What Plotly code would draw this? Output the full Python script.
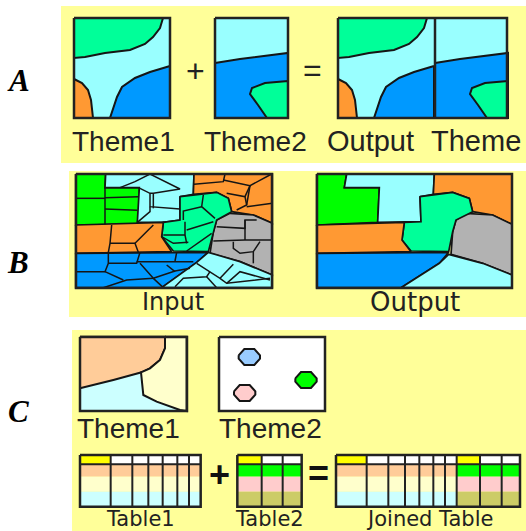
import plotly.graph_objects as go

# palette
PALE = "#FFFF99"; CYAN = "#99FFFF"; SPRING = "#00FF99"; BLUE = "#0099FF"; ORANGE = "#FF9933"
LIME = "#00FF00"; GREY = "#B2B2B2"; PEACH = "#FFCC99"; CREAM = "#FFFFCC"; ICE = "#CCFFFF"
PINK = "#FFCCCC"; OLIVE = "#CCCC66"; YELLOW = "#FFFF00"; SKY = "#99CCFF"; INK = "#151515"

# Panel A (page pixels, theme-local)
A1_green = [(74,18),(163,18),(160,28),(153,37),(145,44),(130,50),(105,53),(85,57),(74,58)]
A1_blue = [(170,66),(150,72),(135,78),(122,87),(117,97),(113,108),(110,118),(170,118)]
A1_orange = [(74,79),(82,83),(88,90),(91,100),(93,118),(74,118)]
A2_blue = [(215,63),(240,59),(288,53),(288,118),(215,118)]
A2_green = [(288,81),(265,83),(252,88),(250,94),(258,105),(267,118),(288,118)]

# Panel B (zoom coordinates)
B_in_regions = [
    (LIME, [(47,27),(137,27),(135,68),(238,68),(238,125),(232,178),(47,180)]),
    (CYAN, [(137,27),(402,27),(400,88),(360,95),(360,165),(310,172),(232,172),(238,68),(135,68)]),
    (ORANGE, [(402,27),(637,27),(637,175),(580,150),(515,140),(505,100),(470,82),(400,88)]),
    (GREY, [(637,175),(637,330),(540,290),(450,265),(460,200),(470,165),(510,145),(580,150)]),
    (SPRING, [(360,95),(470,82),(505,100),(515,140),(470,165),(460,200),(445,260),(340,258),(305,215),(310,172),(360,165)]),
    (ORANGE, [(47,180),(310,172),(305,215),(335,260),(47,265)]),
    (BLUE, [(47,265),(445,262),(410,292),(305,368),(47,368)]),
    (CYAN, [(445,262),(540,290),(637,330),(637,368),(305,368),(410,292)]),
]
B_in_lines = [
    [(47,100),(135,100)],[(135,98),(235,95)],[(135,132),(232,136)],[(135,68),(135,178)],
    [(180,68),(225,50),(270,27),(360,72),(280,85),(270,85),(240,70)],[(270,85),(270,125),(360,132)],
    [(270,125),(270,140),(232,172)],[(280,85),(280,130)],
    [(402,58),(490,50),(495,27)],[(490,45),(570,62),(635,27)],[(570,62),(560,120),(530,135)],
    [(560,125),(637,115)],[(500,85),(555,95),(560,120)],[(570,62),(555,95)],
    [(430,90),(425,125),(465,160)],[(425,125),(370,138),(370,165)],[(375,170),(375,210),(380,235)],
    [(310,210),(375,210)],[(380,195),(460,170)],[(380,258),(440,215),(455,205)],[(305,215),(340,235),(385,232)],
    [(470,185),(555,190),(555,165),(590,165)],[(460,228),(555,225),(637,225)],[(555,165),(555,225)],
    [(520,230),(520,250),(540,265),(580,260),(600,230)],[(580,260),(580,295)],
    [(155,180),(150,235),(145,262)],[(150,235),(225,235),(235,262)],[(225,235),(280,180)],
    [(47,320),(135,320),(145,295),(145,265)],[(145,295),(230,295),(240,262)],[(230,290),(400,290)],
    [(350,262),(345,288)],[(240,295),(280,340),(200,345),(130,368)],[(135,320),(190,345)],
    [(280,340),(345,318),(390,310)],[(320,300),(345,320)],[(280,340),(310,368)],
    [(410,295),(450,320),(480,340),(520,298)],[(450,320),(440,335),(370,340),(345,365)],
    [(480,340),(500,355),(630,340)],[(500,355),(540,320),(630,345)],[(440,335),(470,368)],
]
B_out_regions = [
    (LIME, [(62,27),(152,27),(145,68),(250,68),(245,172),(62,180)]),
    (CYAN, [(152,27),(415,27),(412,88),(372,95),(375,170),(245,172),(250,68),(145,68)]),
    (ORANGE, [(415,27),(648,27),(648,178),(590,150),(530,140),(520,100),(470,82),(412,88)]),
    (GREY, [(648,178),(648,330),(560,295),(465,268),(470,200),(480,165),(510,145),(590,150)]),
    (SPRING, [(372,95),(470,82),(520,100),(530,140),(480,165),(470,200),(458,260),(345,258),(318,225),(325,172),(375,170)]),
    (ORANGE, [(62,180),(325,172),(318,225),(345,260),(62,265)]),
    (BLUE, [(62,265),(458,262),(430,295),(315,368),(62,368)]),
    (CYAN, [(458,268),(560,295),(648,330),(648,368),(315,368),(430,295)]),
]

# Panel C theme polygons (zoom coordinates)
C1_peach = [(60,35),(315,35),(315,70),(300,105),(270,130),(245,142),(160,165),(60,190)]
C1_cream = [(315,35),(380,35),(380,258),(360,255),(290,230),(250,210),(243,142),(270,130),(300,105),(315,70)]
C2_points = [(568,96,SKY),(738,165,LIME),(554,204,PINK)]
OCT = [(-32,-5),(-15,-24),(15,-24),(32,-5),(32,5),(15,24),(-15,24),(-32,5)]

# Tables (zoom coordinates, separators and rows)
T1_x = [60,152,217,265,308,352,387,422]
T2_x = [532,605,668,725]
TJ_x = [828,920,985,1035,1078,1120,1155,1190,1260,1325,1380]
ROW_Y = [30,58,95,140,185]
T1_rows = [PEACH, CREAM, ICE]
T2_rows = [LIME, PINK, OLIVE]

fig = go.Figure()

def poly(pts, fill=None, line=INK, w=2):
    xs = [p[0] for p in pts]; ys = [p[1] for p in pts]
    if fill:
        xs = xs + xs[:1]; ys = ys + ys[:1]
    fig.add_trace(go.Scatter(x=xs, y=ys, mode="lines", fill="toself" if fill else None,
                             fillcolor=fill, line=dict(color=line, width=w), hoverinfo="skip", showlegend=False))

def rect(x0, y0, x1, y1, fill=None, line=INK, w=2):
    if fill:
        poly([(x0,y0),(x1,y0),(x1,y1),(x0,y1)], fill, line, w)
    else:
        poly([(x0,y0),(x1,y0),(x1,y1),(x0,y1),(x0,y0)], None, line, w)

def tx(pts, dx, dy, s=1.0):
    return [(p[0]/s+dx, p[1]/s+dy) for p in pts]

# backgrounds
rect(61,6,526,163,PALE,PALE,0)
rect(69,171,526,317,PALE,PALE,0)
rect(72,330,526,531,PALE,PALE,0)

# A
def theme1(dx):
    rect(74+dx,18,170+dx,118,CYAN,CYAN,0)
    poly(tx(A1_green,dx,0),SPRING); poly(tx(A1_blue,dx,0),BLUE); poly(tx(A1_orange,dx,0),ORANGE)
def theme2(dx):
    rect(215+dx,18,288+dx,118,CYAN,CYAN,0)
    poly(tx(A2_blue,dx,0),BLUE); poly(tx(A2_green,dx,0),SPRING)
theme1(0); rect(74,18,170,118,None,"#222222",2.5)
theme2(0); rect(215,18,288,118,None,"#222222",2.5)
theme1(264); theme2(220); rect(338,18,507,118,None,"#222222",2.5)
poly([(435,18),(435,118)],None,"#222222",2.5)

# B
for c,p in B_in_regions: poly(tx(p,60,165,3),c,INK,1.7)
for l in B_in_lines: poly(tx(l,60,165,3),None,INK,1.5)
rect(76,174,272,288,None,"#222222",2.5)
for c,p in B_out_regions: poly(tx(p,296,165,3),c,INK,1.7)
rect(317,174,512,288,None,"#222222",2.5)

# C themes
rect(80,337,187,411,ICE,ICE,0)
poly(tx(C1_peach,60,325,3),PEACH); poly(tx(C1_cream,60,325,3),CREAM)
rect(80,337,187,411,None,"#222222",2.5)
rect(219,337,325,411,"#FFFFFF","#FFFFFF",0)
for px,py,c in C2_points:
    poly(tx([(px+o[0],py+o[1]) for o in OCT],60,325,3),c)
rect(219,337,325,411,None,"#222222",2.5)

# C tables
def table(xs, groups):
    ox, oy = 60, 445
    y = [v/3+oy for v in ROW_Y]
    X = [v/3+ox for v in xs]
    for i in range(len(xs)-1):
        rows = groups[i][1]; head = groups[i][0]
        rect(X[i],y[0],X[i+1],y[1],head,head,0)
        for r in range(3):
            rect(X[i],y[r+1],X[i+1],y[r+2],rows[r],rows[r],0)
    rect(X[0],y[0],X[-1],y[-1],None,"#222222",2.5)
    poly([(X[0],y[1]),(X[-1],y[1])],None,"#222222",2)
    for v in X[1:-1]:
        poly([(v,y[0]),(v,y[-1])],None,"#222222",2)

WH = "#FFFFFF"
table(T1_x, [(YELLOW if i==0 else WH, T1_rows) for i in range(7)])
table(T2_x, [(YELLOW if i==0 else WH, T2_rows) for i in range(3)])
table(TJ_x, [(YELLOW if i==0 else WH, T1_rows) for i in range(7)] + [(YELLOW if i==0 else WH, T2_rows) for i in range(3)])

SANS = "Liberation Sans"; WIDE = "DejaVu Sans"; SERIF = "Liberation Serif"
labels = [
    ("Theme1",123,141,28,SANS),("Theme2",255,141,28,SANS),("Output",370,141,29,SANS),("Theme",476,141,29,SANS),
    ("Input",173,302,24,WIDE),("Output",415,302,26,WIDE),
    ("Theme1",128,428,28,SANS),("Theme2",270,428,28,SANS),
    ("Table1",140,519,21,WIDE),("Table2",269,519,21,WIDE),("Joined Table",429,519,21,WIDE),
]
ann = [dict(x=x,y=y,text=t,showarrow=False,xref="x",yref="y",font=dict(family=f,size=s,color="#222222")) for t,x,y,s,f in labels]
for t,x,y in [("A",18,80),("B",18,262),("C",18,411)]:
    ann.append(dict(x=x,y=y,text=f"<b><i>{t}</i></b>",showarrow=False,xref="x",yref="y",font=dict(family=SERIF,size=31,color="#000000")))
ann += [dict(x=195,y=71,text="+",showarrow=False,font=dict(family=SANS,size=32,color="#222222")),
        dict(x=312,y=70,text="=",showarrow=False,font=dict(family=SANS,size=32,color="#222222")),
        dict(x=219,y=474,text="<b>+</b>",showarrow=False,font=dict(family=SANS,size=36,color="#111111")),
        dict(x=318,y=473,text="<b>=</b>",showarrow=False,font=dict(family=SANS,size=36,color="#111111"))]

fig.update_layout(width=526,height=531,margin=dict(l=0,r=0,t=0,b=0),paper_bgcolor="#FFFFFF",plot_bgcolor="#FFFFFF",
                  showlegend=False,annotations=ann,
                  xaxis=dict(range=[0,526],visible=False,fixedrange=True),
                  yaxis=dict(range=[531,0],visible=False,fixedrange=True))
fig.write_html("out.html",config=dict(displayModeBar=False),post_script="document.body.style.margin='0';")
